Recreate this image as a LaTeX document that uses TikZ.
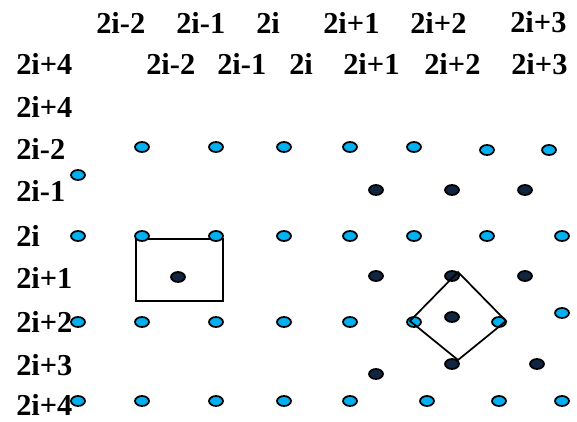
\documentclass[tikz,border=0pt]{standalone}
\usepackage{fontspec}
\setmainfont{Liberation Serif}
\usepackage{tikz}
\usepackage{xcolor}
\definecolor{dotblue}{RGB}{0,176,240}
\definecolor{dotnavy}{RGB}{16,37,63}

\begin{document}
\begin{tikzpicture}[x=0.75pt,y=0.75pt,yscale=-1,xscale=1,
  lbl/.style={anchor=west,inner sep=0pt,font=\fontsize{22.8}{27}\selectfont\bfseries},
  bdot/.style={draw=black,fill=dotblue,line width=1.3},
  ndot/.style={draw=black,fill=dotnavy,line width=1.3}]
\useasboundingbox (0,0) rectangle (577,421);

%Shape: Rectangle
\draw [line width=1.3] (136,239) -- (223,239) -- (223,301) -- (136,301) -- cycle ;

%Shapes: Ellipses, row 2i-2
\draw [bdot] (142,147) circle [x radius=7, y radius=5] ;
\draw [bdot] (216,147) circle [x radius=7, y radius=5] ;
\draw [bdot] (284,147) circle [x radius=7, y radius=5] ;
\draw [bdot] (350,147) circle [x radius=7, y radius=5] ;
\draw [bdot] (414,147) circle [x radius=7, y radius=5] ;
\draw [bdot] (487,150) circle [x radius=7, y radius=5] ;
\draw [bdot] (549,150) circle [x radius=7, y radius=5] ;
%Shape: Ellipse
\draw [bdot] (78,175) circle [x radius=7, y radius=5] ;
%Shapes: Ellipses, row 2i-1
\draw [ndot] (376,190) circle [x radius=7, y radius=5] ;
\draw [ndot] (452,190) circle [x radius=7, y radius=5] ;
\draw [ndot] (525,190) circle [x radius=7, y radius=5] ;
%Shapes: Ellipses, row 2i
\draw [bdot] (78,236) circle [x radius=7, y radius=5] ;
\draw [bdot] (142,236) circle [x radius=7, y radius=5] ;
\draw [bdot] (216,236) circle [x radius=7, y radius=5] ;
\draw [bdot] (284,236) circle [x radius=7, y radius=5] ;
\draw [bdot] (350,236) circle [x radius=7, y radius=5] ;
\draw [bdot] (414,236) circle [x radius=7, y radius=5] ;
\draw [bdot] (487,236) circle [x radius=7, y radius=5] ;
\draw [bdot] (562,236) circle [x radius=7, y radius=5] ;
%Shapes: Ellipses, row 2i+1
\draw [ndot] (178,277) circle [x radius=7, y radius=5] ;
\draw [ndot] (376,276) circle [x radius=7, y radius=5] ;
\draw [ndot] (452,276) circle [x radius=7, y radius=5] ;
\draw [ndot] (525,276) circle [x radius=7, y radius=5] ;
%Shapes: Ellipses, row 2i+2
\draw [bdot] (78,322) circle [x radius=7, y radius=5] ;
\draw [bdot] (142,322) circle [x radius=7, y radius=5] ;
\draw [bdot] (216,322) circle [x radius=7, y radius=5] ;
\draw [bdot] (284,322) circle [x radius=7, y radius=5] ;
\draw [bdot] (350,322) circle [x radius=7, y radius=5] ;
\draw [bdot] (414,322) circle [x radius=7, y radius=5] ;
\draw [bdot] (499,322) circle [x radius=7, y radius=5] ;
\draw [bdot] (562,313) circle [x radius=7, y radius=5] ;
\draw [ndot] (452,317) circle [x radius=7, y radius=5] ;
%Shapes: Ellipses, row 2i+3
\draw [ndot] (452,364) circle [x radius=7, y radius=5] ;
\draw [ndot] (537,364) circle [x radius=7, y radius=5] ;
\draw [ndot] (376,374) circle [x radius=7, y radius=5] ;
%Shapes: Ellipses, row 2i+4
\draw [bdot] (78,401) circle [x radius=7, y radius=5] ;
\draw [bdot] (142,401) circle [x radius=7, y radius=5] ;
\draw [bdot] (216,401) circle [x radius=7, y radius=5] ;
\draw [bdot] (284,401) circle [x radius=7, y radius=5] ;
\draw [bdot] (350,401) circle [x radius=7, y radius=5] ;
\draw [bdot] (427,401) circle [x radius=7, y radius=5] ;
\draw [bdot] (499,401) circle [x radius=7, y radius=5] ;
\draw [bdot] (562,401) circle [x radius=7, y radius=5] ;

%Shape: Diamond
\draw [line width=1.3] (458,272) -- (506,321) -- (458,360) -- (410,321) -- cycle ;

% Text Node
\draw (96,22.5) node [lbl] (top1) {2i-2};
% Text Node
\draw (176,22.5) node [lbl] (top2) {2i-1};
% Text Node
\draw (256,22.5) node [lbl] (top3) {2i};
% Text Node
\draw (323,22.5) node [lbl] (top4) {2i+1};
% Text Node
\draw (410,22.5) node [lbl] (top5) {2i+2};
% Text Node
\draw (510,22.5) node [lbl] (top6) {2i+3};
% Text Node
\draw (16,64) node [lbl] (sec0) {2i+4};
% Text Node
\draw (146,64) node [lbl] (sec1) {2i-2};
% Text Node
\draw (217,64) node [lbl] (sec2) {2i-1};
% Text Node
\draw (289,64) node [lbl] (sec3) {2i};
% Text Node
\draw (343,64) node [lbl] (sec4) {2i+1};
% Text Node
\draw (424,64) node [lbl] (sec5) {2i+2};
% Text Node
\draw (511,64) node [lbl] (sec6) {2i+3};
% Text Node
\draw (16,106.5) node [lbl] (row0) {2i+4};
% Text Node
\draw (16,149) node [lbl] (row1) {2i-2};
% Text Node
\draw (16,191) node [lbl] (row2) {2i-1};
% Text Node
\draw (16,236) node [lbl] (row3) {2i};
% Text Node
\draw (16,278) node [lbl] (row4) {2i+1};
% Text Node
\draw (16,322) node [lbl] (row5) {2i+2};
% Text Node
\draw (16,365) node [lbl] (row6) {2i+3};
% Text Node
\draw (16,404.5) node [lbl] (row7) {2i+4};

\end{tikzpicture}
\end{document}
